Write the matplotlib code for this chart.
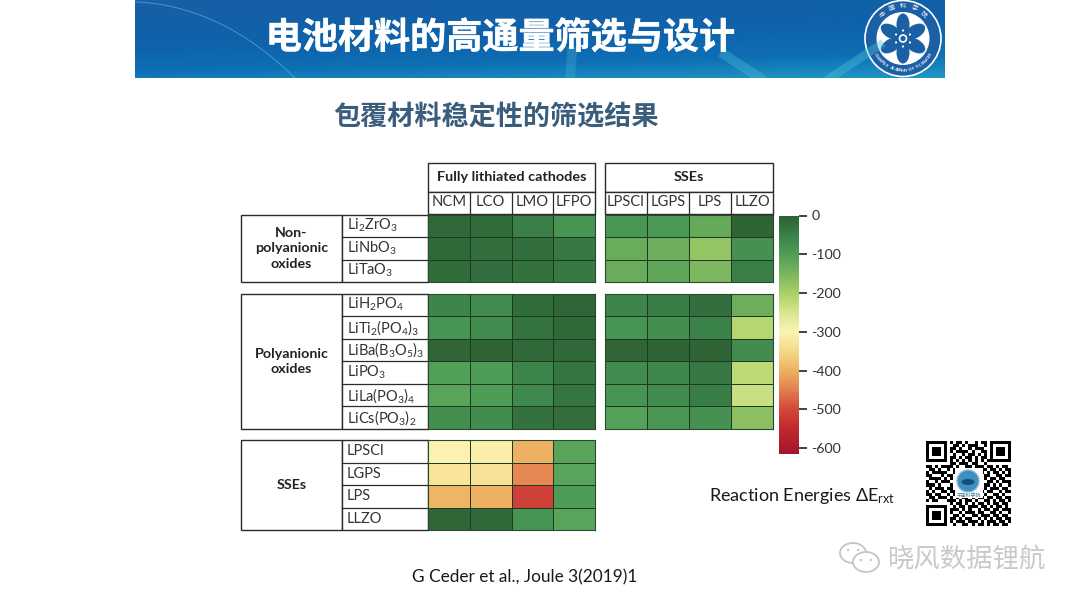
import numpy as np
import matplotlib
matplotlib.use("Agg")
import matplotlib.pyplot as plt
import matplotlib.patheffects as pe
from matplotlib.colors import LinearSegmentedColormap, Normalize
from matplotlib.patches import Rectangle, Circle, Ellipse

W, H = 1080, 607

cathodes = ["NCM", "LCO", "LMO", "LFPO"]
sse_cols = ["LPSCl", "LGPS", "LPS", "LLZO"]
tick_vals = [0, -100, -200, -300, -400, -500, -600]

nonpoly_rows = ["Li$_2$ZrO$_3$", "LiNbO$_3$", "LiTaO$_3$"]
poly_rows = ["LiH$_2$PO$_4$", "LiTi$_2$(PO$_4$)$_3$", "LiBa(B$_3$O$_5$)$_3$",
             "LiPO$_3$", "LiLa(PO$_3$)$_4$", "LiCs(PO$_3$)$_2$"]
sse_rows = ["LPSCl", "LGPS", "LPS", "LLZO"]

nonpoly_cath = [[-15, -20, -50, -85],
                [-15, -25, -25, -40],
                [-20, -25, -28, -40]]
nonpoly_sse = [[-90, -95, -125, -8],
               [-130, -135, -180, -80],
               [-130, -120, -155, -50]]
poly_cath = [[-60, -70, -20, -12],
             [-85, -70, -30, -15],
             [-10, -8, -15, -15],
             [-105, -100, -60, -35],
             [-115, -100, -65, -35],
             [-75, -72, -28, -22]]
poly_sse = [[-60, -45, -25, -135],
            [-85, -75, -55, -215],
            [-12, -8, -8, -70],
            [-70, -62, -40, -220],
            [-85, -70, -45, -235],
            [-110, -90, -80, -170]]
sse_cath = [[-305, -310, -400, -115],
            [-330, -335, -440, -115],
            [-395, -400, -510, -100],
            [-12, -15, -85, -115]]

qr_rows = [
    "1111111010110100101101111111",
    "1000001001101011100101000001",
    "1011101011010010111001011101",
    "1011101010111101001101011101",
    "1011101001001011010101011101",
    "1000001011010110101101000001",
    "1111111010101010101011111111",
    "0000000011011101100100000000",
    "1101011110100110111011010110",
    "0110100101011011001101101011",
    "1011111001000000001010110101",
    "1100010110000000000110011011",
    "0111101010000000000101101100",
    "1001011100000000000011010111",
    "1110100010000000000110101001",
    "0101110110000000000101110110",
    "1010011011000000001011001011",
    "1101100101011010110100110100",
    "0110111010101101011011011011",
    "1011000111010110100110101101",
    "0000000010110101011010110110",
    "1111111001011011101101011010",
    "1000001011101010010110110111",
    "1011101010010111011001101001",
    "1011101001101001101110110110",
    "1011101011010110010101011011",
    "1000001010111011101011101101",
    "1111111001001101011010110110",
]

vmin, vmax = -615, 0
stops = [(-615, "#a3162b"), (-550, "#c02a2f"), (-500, "#d4483a"), (-450, "#e38050"),
         (-400, "#eeb163"), (-350, "#f6d98a"), (-300, "#fbf4b4"), (-250, "#d8e68f"),
         (-200, "#a8d066"), (-150, "#7ab55e"), (-100, "#4f9d58"), (-50, "#3a8049"),
         (0, "#2c5f33")]
cmap = LinearSegmentedColormap.from_list(
    "rxt", [((v - vmin) / (vmax - vmin), c) for v, c in stops])
norm = Normalize(vmin, vmax)

plt.rcParams["font.family"] = ["Lato", "DejaVu Sans"]
plt.rcParams["mathtext.fontset"] = "custom"
plt.rcParams["mathtext.rm"] = "Lato"
plt.rcParams["mathtext.default"] = "rm"
CJK = ["Noto Sans CJK SC", "DejaVu Sans"]
EDGE = "#2b2b2b"
TXT = "#333333"

fig = plt.figure(figsize=(W / 100, H / 100), dpi=100)
bg = fig.add_axes([0, 0, 1, 1])
bg.set_xlim(0, W)
bg.set_ylim(H, 0)
bg.axis("off")


def pix_axes(x0, y0, x1, y1):
    return fig.add_axes([x0 / W, 1 - y1 / H, (x1 - x0) / W, (y1 - y0) / H])


def heat(x0, y0, x1, y1, vals):
    ax = pix_axes(x0, y0, x1, y1)
    ax.pcolormesh(np.array(vals), cmap=cmap, norm=norm, edgecolors="#1d3a20", linewidth=0.55)
    ax.invert_yaxis()
    ax.set_xticks([])
    ax.set_yticks([])
    for s in ax.spines.values():
        s.set_color("#2a4a30")
        s.set_linewidth(0.8)


def box(x0, y0, x1, y1, lw=1.0):
    bg.add_patch(Rectangle((x0, y0), x1 - x0, y1 - y0, fc="white", ec=EDGE, lw=lw))


def label_block(y0, y1, title, rows):
    box(241, y0, 342, y1)
    box(342, y0, 428, y1)
    bg.text(291.5, (y0 + y1) / 2, title, ha="center", va="center", fontsize=10.3,
            fontweight="bold", color="#222222", linespacing=1.35)
    h = (y1 - y0) / len(rows)
    for i, r in enumerate(rows):
        if i:
            bg.plot([342, 428], [y0 + i * h] * 2, color=EDGE, lw=0.9)
        bg.text(347, y0 + (i + 0.5) * h, r, ha="left", va="center", fontsize=10.5, color=TXT)


def header(x0, x1, title, cols):
    box(x0, 163, x1, 192)
    box(x0, 192, x1, 214)
    bg.text((x0 + x1) / 2, 177, title, ha="center", va="center", fontsize=10.4,
            fontweight="bold", color="#222222")
    w = (x1 - x0) / len(cols)
    for i, c in enumerate(cols):
        if i:
            bg.plot([x0 + i * w] * 2, [192, 214], color=EDGE, lw=0.9)
        bg.text(x0 + (i + 0.5) * w, 202.5, c, ha="center", va="center", fontsize=10.6, color=TXT)


# banner
ban = pix_axes(135, 0, 945, 78)
gx, gy = np.meshgrid(np.linspace(0, 1, 200), np.linspace(0, 1, 60))
ban_cmap = LinearSegmentedColormap.from_list("ban", ["#175fa6", "#0f62ab", "#0e6fb4", "#1f97c6"])
ban.imshow(0.75 * gy ** 1.5 + 0.25 * gx, cmap=ban_cmap, aspect="auto", extent=(135, 945, 78, 0), vmin=0, vmax=1)
ban.plot([570, 572], [78, 52], color="#4fb6d6", lw=7, alpha=0.3)
ban.plot([725, 760], [55, 78], color="#4fc0d8", lw=7, alpha=0.35)
ban.plot([830, 880], [78, 45], color="#4fc0d8", lw=6, alpha=0.4)
arc_t = np.linspace(0, 1, 40)
ban.plot(135 + 70 * arc_t + 90 * arc_t ** 2, 2 + 30 * arc_t ** 2 + 46 * arc_t ** 4,
         color="#9fd0ea", lw=0.6, alpha=0.5)
ban.set_xlim(135, 945)
ban.set_ylim(78, 0)
ban.axis("off")
ban.text(500.5, 38, "电池材料的高通量筛选与设计", family=CJK, fontsize=26, fontweight="bold",
         color="white", ha="center", va="center",
         path_effects=[pe.withStroke(linewidth=0.35, foreground="white")])

# academy seal
cx, cy = 903, 38.5
ban.add_patch(Circle((cx, cy), 38, fc="#1b5fa5", ec="white", lw=1.2))
ban.add_patch(Circle((cx, cy), 26.5, fc="white", ec="none"))
for deg in [90, 30, -30, -90, -150, 150]:
    a = np.deg2rad(deg)
    ban.add_patch(Ellipse((cx + 14 * np.cos(a), cy - 14 * np.sin(a)), 22, 13, angle=-deg,
                          fc="#1b5fa5", ec="none"))
ban.add_patch(Circle((cx, cy), 9, fc="#1b5fa5", ec="none"))
ban.add_patch(Circle((cx, cy), 3.5, fc="none", ec="white", lw=1.2))
for deg in [90, 30, -30, -90, -150, 150]:
    a = np.deg2rad(deg)
    ban.add_patch(Circle((cx + 8 * np.cos(a), cy - 8 * np.sin(a)), 1.1, fc="white", ec="none"))
seal_cn = "中国科学院"
for i, ch in enumerate(seal_cn):
    deg = 130 - i * 20
    a = np.deg2rad(deg)
    ban.text(cx + 32 * np.cos(a), cy - 32 * np.sin(a), ch, family=CJK, fontsize=4.5, color="white",
             ha="center", va="center", rotation=deg - 90)
seal_en = "CHINESE ACADEMY OF SCIENCES"
for i, ch in enumerate(seal_en):
    deg = -150 + i * 120 / (len(seal_en) - 1)
    a = np.deg2rad(deg)
    ban.text(cx + 32 * np.cos(a), cy - 32 * np.sin(a), ch, fontsize=3.2, color="white", fontweight="bold",
             ha="center", va="center", rotation=deg + 90)

bg.text(496.5, 117, "包覆材料稳定性的筛选结果", family=CJK, fontsize=19.5, fontweight="bold",
        color="#3b5d7c", ha="center", va="center")

header(428, 595, "Fully lithiated cathodes", cathodes)
header(605, 773, "SSEs", sse_cols)

label_block(214.5, 282, "Non-\npolyanionic\noxides", nonpoly_rows)
label_block(293.5, 429, "Polyanionic\noxides", poly_rows)
label_block(440, 530, "SSEs", sse_rows)

heat(428, 214.5, 595, 282, nonpoly_cath)
heat(605, 214.5, 773, 282, nonpoly_sse)
heat(428, 293.5, 595, 429, poly_cath)
heat(605, 293.5, 773, 429, poly_sse)
heat(428, 440, 595, 530, sse_cath)

# colorbar
cax = pix_axes(779, 215.5, 799, 454)
grad = np.linspace(vmax, vmin, 256).reshape(-1, 1)
cax.imshow(grad, cmap=cmap, norm=norm, aspect="auto", extent=(0, 1, vmin, vmax))
cax.set_xticks([])
cax.yaxis.tick_right()
cax.set_yticks(tick_vals)
cax.set_yticklabels([str(v) for v in tick_vals])
cax.tick_params(axis="y", length=6, width=1.2, color="#222222", labelsize=10.3,
                labelcolor=TXT, direction="out", pad=3)
for s in cax.spines.values():
    s.set_visible(False)

bg.text(709, 496, r"Reaction Energies $\Delta$E$_{\mathrm{rxt}}$", fontsize=13, color="#1a1a1a",
        ha="left", va="center")
bg.text(525, 577, "G Ceder et al., Joule 3(2019)1", fontsize=12.4, color="#1a1a1a",
        ha="center", va="center")

# QR code with the round emblem in the middle
qax = pix_axes(926, 441, 1011, 526)
qax.imshow([[1 - int(c) for c in r] for r in qr_rows], cmap="gray", vmin=0, vmax=1, aspect="auto",
           interpolation="nearest", extent=(926, 1011, 526, 441))
qax.add_patch(Rectangle((955, 468), 28, 30, fc="white", ec="none"))
qax.add_patch(Circle((968, 481), 11, fc="#3f8fc0", ec="#8fbcd8", lw=1))
qax.add_patch(Ellipse((968, 482), 13, 6, fc="#154f80", ec="none"))
qax.text(969, 495, "中国科学院", family=CJK, fontsize=3.5, color="#3f7fa8", ha="center", va="center")
qax.set_xlim(926, 1011)
qax.set_ylim(526, 441)
qax.axis("off")

# watermark
for xy, wh in [((853, 553), (26, 20)), ((866, 562), (26, 20))]:
    bg.add_patch(Ellipse(xy, *wh, fc="white", ec="#c4c4c4", lw=1.3))
for xy in [(848, 550), (858, 550), (861, 560), (871, 560)]:
    bg.add_patch(Circle(xy, 1.2, fc="#c4c4c4", ec="none"))
bg.text(966, 559, "晓风数据锂航", family=CJK, fontsize=19, color="#c9c9c9",
        ha="center", va="center")

fig.savefig("out.png", dpi=100)
